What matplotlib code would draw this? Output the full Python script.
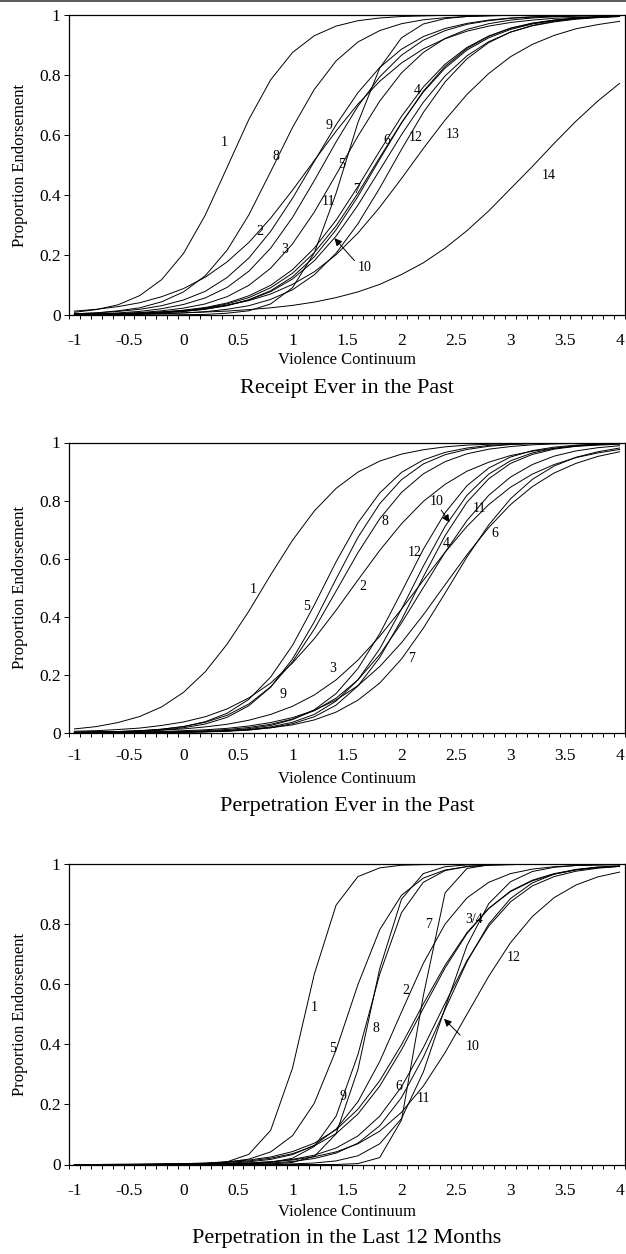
import matplotlib

matplotlib.use("Agg")
import matplotlib.pyplot as plt
from matplotlib.lines import Line2D
from matplotlib.ticker import FixedLocator, FixedFormatter

plt.rcParams["font.family"] = ["Liberation Serif", "DejaVu Serif"]
plt.rcParams["axes.unicode_minus"] = False

# Violence continuum (theta) grid the item curves were read at
THETA = [-1.0, -0.8, -0.6, -0.4, -0.2, 0.0, 0.2, 0.4, 0.6, 0.8, 1.0, 1.2, 1.4,
         1.6, 1.8, 2.0, 2.2, 2.4, 2.6, 2.8, 3.0, 3.2, 3.4, 3.6, 3.8, 4.0]

# --- Receipt ever in the past (items 1-14) ---
rec_1 = [.009, .018, .034, .065, .118, .205, .333, .492, .652, .784, .875, .931, .963, .981, .990, .995, .997, .999, .999, .999, 1, 1, 1, 1, 1, 1]
rec_2 = [.013, .019, .028, .041, .061, .088, .126, .177, .242, .323, .416, .515, .613, .703, .779, .840, .887, .921, .946, .963, .975, .983, .989, .992, .995, .997]
rec_3 = [.002, .003, .005, .008, .014, .023, .037, .061, .099, .156, .237, .343, .468, .596, .713, .807, .875, .922, .952, .971, .983, .990, .994, .996, .998, .999]
rec_4 = [.001, .002, .004, .006, .010, .016, .025, .040, .064, .099, .151, .223, .316, .428, .547, .662, .760, .836, .892, .930, .956, .972, .983, .989, .993, .996]
rec_5 = [.003, .004, .007, .012, .021, .035, .057, .092, .146, .223, .325, .448, .577, .696, .794, .866, .916, .948, .969, .981, .989, .993, .996, .998, .999, .999]
rec_6 = [.001, .002, .003, .004, .007, .012, .019, .032, .051, .081, .127, .194, .284, .395, .519, .640, .746, .829, .888, .929, .956, .973, .983, .990, .994, .996]
rec_7 = [.001, .002, .003, .006, .009, .014, .023, .037, .058, .091, .139, .208, .297, .406, .525, .641, .743, .823, .883, .924, .952, .970, .981, .988, .993, .995]
rec_8 = [.004, .007, .014, .024, .044, .077, .131, .216, .334, .478, .625, .752, .847, .910, .948, .971, .984, .991, .995, .997, .999, .999, 1, 1, 1, 1]
rec_9 = [.004, .007, .012, .019, .031, .050, .079, .125, .190, .279, .389, .512, .634, .741, .825, .886, .928, .955, .972, .983, .990, .994, .996, .998, .999, .999]
rec_10 = [.001, .002, .003, .005, .008, .012, .020, .031, .050, .078, .120, .181, .263, .366, .483, .601, .709, .797, .864, .911, .943, .964, .977, .986, .991, .995]
rec_11 = [0, 0, 0, 0, 0, .001, .002, .006, .014, .037, .091, .207, .406, .641, .823, .924, .970, .988, .995, .998, .999, 1, 1, 1, 1, 1]
rec_12 = [.001, .001, .001, .002, .004, .007, .011, .019, .031, .052, .084, .134, .206, .304, .423, .552, .675, .777, .854, .908, .943, .965, .979, .988, .993, .996]
rec_13 = [.002, .003, .005, .007, .010, .015, .022, .033, .048, .070, .102, .144, .201, .273, .359, .455, .555, .650, .735, .805, .861, .902, .932, .954, .968, .979]
rec_14 = [.002, .002, .003, .004, .005, .007, .010, .013, .018, .024, .032, .043, .058, .077, .102, .135, .174, .223, .281, .347, .421, .495, .572, .646, .713, .772]

# --- Perpetration ever in the past (items 1-12) ---
perp_1 = [.013, .021, .035, .056, .089, .139, .210, .305, .419, .544, .663, .764, .842, .898, .936, .960, .975, .985, .991, .994, .997, .998, .999, .999, 1, 1]
perp_2 = [.005, .007, .011, .016, .025, .037, .055, .082, .120, .171, .240, .324, .422, .526, .628, .720, .797, .856, .901, .932, .955, .970, .980, .987, .991, .994]
perp_3 = [.002, .003, .004, .006, .009, .013, .020, .029, .043, .063, .091, .130, .182, .250, .332, .426, .525, .622, .711, .786, .846, .891, .924, .948, .964, .976]
perp_4 = [0, 0, 0, 0, .001, .002, .003, .005, .009, .017, .031, .055, .095, .161, .259, .389, .537, .679, .794, .875, .928, .959, .977, .987, .993, .996]
perp_5 = [.001, .002, .004, .006, .012, .021, .038, .067, .115, .192, .301, .440, .589, .723, .826, .897, .940, .966, .981, .990, .994, .997, .998, .999, .999, 1]
perp_6 = [.001, .001, .002, .003, .004, .007, .010, .015, .023, .035, .052, .077, .113, .162, .228, .310, .406, .510, .613, .707, .786, .848, .895, .928, .952, .968]
perp_7 = [0, 0, .001, .001, .001, .002, .004, .006, .010, .017, .027, .044, .071, .112, .171, .254, .360, .481, .605, .716, .806, .873, .919, .949, .968, .981]
perp_8 = [.001, .003, .004, .007, .012, .021, .036, .060, .099, .158, .244, .357, .488, .620, .737, .828, .892, .934, .961, .977, .986, .992, .995, .997, .998, .999]
perp_9 = [.001, .002, .003, .005, .009, .017, .030, .053, .093, .157, .254, .382, .530, .673, .789, .872, .926, .958, .976, .987, .993, .996, .998, .999, .999, 1]
perp_10 = [0, 0, 0, .001, .001, .002, .003, .006, .011, .020, .036, .063, .109, .182, .289, .426, .574, .711, .818, .891, .937, .964, .980, .989, .994, .997]
perp_11 = [0, .001, .001, .002, .002, .004, .007, .011, .018, .029, .047, .076, .119, .182, .269, .378, .500, .622, .731, .818, .881, .924, .953, .971, .982, .989]
perp_12 = [0, 0, 0, .001, .001, .002, .004, .008, .014, .025, .045, .079, .135, .221, .341, .485, .632, .758, .851, .912, .950, .972, .984, .991, .995, .997]

# --- Perpetration in the last 12 months (items 1-12) ---
last_1 = [0, 0, 0, 0, 0, .001, .003, .009, .034, .114, .321, .634, .864, .959, .988, .997, .999, 1, 1, 1, 1, 1, 1, 1, 1, 1]
last_2 = [0, 0, 0, 0, .001, .001, .002, .004, .009, .017, .033, .064, .118, .209, .343, .508, .670, .801, .888, .940, .969, .984, .992, .996, .998, .999]
last_3 = [0, 0, .001, .001, .002, .003, .005, .009, .015, .025, .043, .071, .116, .184, .279, .399, .535, .664, .772, .853, .909, .945, .967, .981, .989, .993]
last_4 = [0, 0, 0, .001, .001, .002, .004, .007, .012, .021, .036, .062, .103, .168, .261, .382, .520, .655, .769, .853, .911, .947, .969, .982, .990, .994]
last_5 = [0, 0, 0, 0, .001, .001, .003, .008, .018, .042, .096, .204, .382, .599, .782, .897, .954, .981, .992, .997, .999, 1, 1, 1, 1, 1]
last_6 = [0, 0, 0, 0, 0, .001, .002, .003, .005, .009, .017, .031, .055, .095, .161, .259, .389, .537, .679, .794, .875, .928, .959, .977, .987, .993]
last_7 = [0, 0, 0, 0, 0, 0, 0, 0, 0, 0, 0, 0, 0, .003, .023, .148, .562, .905, .986, .998, 1, 1, 1, 1, 1, 1]
last_8 = [0, 0, 0, 0, 0, 0, 0, 0, 0, .002, .007, .027, .102, .316, .652, .884, .969, .992, .998, .999, 1, 1, 1, 1, 1, 1]
last_9 = [0, 0, 0, 0, 0, 0, 0, .001, .002, .007, .021, .060, .161, .366, .634, .839, .940, .979, .993, .998, .999, 1, 1, 1, 1, 1]
last_10 = [0, 0, 0, 0, 0, 0, .001, .001, .003, .005, .010, .020, .038, .071, .129, .223, .357, .517, .675, .801, .886, .938, .967, .983, .991, .995]
last_11 = [0, 0, 0, 0, 0, 0, 0, 0, 0, .001, .002, .005, .012, .029, .069, .153, .308, .522, .729, .869, .942, .976, .990, .996, .998, .999]
last_12 = [0, 0, 0, 0, .001, .001, .002, .003, .005, .009, .015, .026, .042, .069, .111, .174, .261, .373, .500, .627, .739, .826, .889, .931, .958, .974]

X_TICKS = [-1, -0.5, 0, 0.5, 1, 1.5, 2, 2.5, 3, 3.5, 4]
X_TICK_LABELS = ["-1", "-0.5", "0", "0.5", "1", "1.5", "2", "2.5", "3", "3.5", "4"]
Y_TICKS = [0, 0.2, 0.4, 0.6, 0.8, 1]
Y_TICK_LABELS = ["0", "0.2", "0.4", "0.6", "0.8", "1"]

W, H = 626, 1254


def fig_y(py):
    return 1 - py / H


def draw_panel(fig, box_px, curves, labels, arrow, tick_pad, xlabel_py, title_py, title):
    left, top, right, bottom = box_px
    ax = fig.add_axes([left / W, fig_y(bottom), (right - left) / W, (bottom - top) / H])
    for ys in curves:
        ax.plot(THETA, ys, color="black", lw=0.7)
    for txt, x, y in labels:
        ax.text(x, y, txt, fontsize=10, ha="center", va="center")
    tail, tip = arrow
    ax.annotate("", xy=tip, xytext=tail,
                arrowprops=dict(arrowstyle="-|>", color="black", lw=0.7,
                                mutation_scale=11, shrinkA=0, shrinkB=0))

    ax.set_xlim(-1.05, 4.05)
    ax.set_ylim(0, 1)
    ax.xaxis.set_major_locator(FixedLocator(X_TICKS))
    ax.xaxis.set_major_formatter(FixedFormatter(X_TICK_LABELS))
    ax.xaxis.set_minor_locator(FixedLocator([-1.05 + 0.1 * k for k in range(52)]))
    ax.yaxis.set_major_locator(FixedLocator(Y_TICKS))
    ax.yaxis.set_major_formatter(FixedFormatter(Y_TICK_LABELS))
    ax.tick_params(axis="x", which="major", length=0, pad=tick_pad, labelsize=12.5)
    ax.tick_params(axis="x", which="minor", length=3, width=0.7, direction="out")
    ax.tick_params(axis="y", which="major", length=3.6, width=0.7, direction="out",
                   pad=2.5, labelsize=12.5)
    for sp in ax.spines.values():
        sp.set_linewidth(0.9)

    # rotated label is anchored at its right-hand edge, so shift it to centre near x=20px
    ax.set_ylabel("Proportion Endorsement", fontsize=12)
    ax.yaxis.set_label_coords((28 - left) / (right - left), 0.5)

    cx = (left + right) / 2 / W
    fig.text(cx, fig_y(xlabel_py), "Violence Continuum", fontsize=12, ha="center", va="center")
    fig.text(cx, fig_y(title_py), title, fontsize=16, ha="center", va="center")
    return ax


fig = plt.figure(figsize=(W / 100, H / 100), dpi=100)
fig.add_artist(Line2D([0, 1], [fig_y(0.7), fig_y(0.7)], color="0.35", lw=1.4))

draw_panel(
    fig, (69, 15, 625, 315),
    [rec_1, rec_2, rec_3, rec_4, rec_5, rec_6, rec_7, rec_8, rec_9, rec_10, rec_11, rec_12, rec_13, rec_14],
    [("1", 0.37, 0.574), ("8", 0.844, 0.53), ("9", 1.333, 0.633), ("5", 1.447, 0.503),
     ("11", 1.333, 0.378), ("7", 1.584, 0.417), ("2", 0.697, 0.278), ("3", 0.927, 0.219),
     ("10", 1.661, 0.159), ("6", 1.865, 0.581), ("4", 2.144, 0.748), ("12", 2.135, 0.591),
     ("13", 2.47, 0.60), ("14", 3.35, 0.466)],
    ((1.569, 0.181), (1.385, 0.256)),
    13, 360, 388, "Receipt Ever in the Past",
)

draw_panel(
    fig, (69, 442.5, 625, 732.7),
    [perp_1, perp_2, perp_3, perp_4, perp_5, perp_6, perp_7, perp_8, perp_9, perp_10, perp_11, perp_12],
    [("1", 0.636, 0.492), ("5", 1.126, 0.434), ("9", 0.911, 0.130), ("8", 1.844, 0.729),
     ("2", 1.645, 0.503), ("3", 1.37, 0.222), ("12", 2.12, 0.621), ("10", 2.318, 0.796),
     ("4", 2.41, 0.652), ("11", 2.716, 0.773), ("6", 2.853, 0.687), ("7", 2.089, 0.256)],
    ((2.364, 0.767), (2.44, 0.725)),
    11.3, 779, 807, "Perpetration Ever in the Past",
)

draw_panel(
    fig, (69, 864.3, 625, 1164.5),
    [last_1, last_2, last_3, last_4, last_5, last_6, last_7, last_8, last_9, last_10, last_11, last_12],
    [("1", 1.202, 0.522), ("5", 1.37, 0.385), ("9", 1.462, 0.226), ("8", 1.767, 0.454),
     ("7", 2.25, 0.798), ("3/4", 2.67, 0.815), ("2", 2.043, 0.578), ("12", 3.028, 0.689),
     ("10", 2.654, 0.392), ("6", 1.975, 0.261), ("11", 2.205, 0.22)],
    ((2.538, 0.431), (2.39, 0.485)),
    13, 1212, 1238, "Perpetration in the Last 12 Months",
)

fig.savefig("out.png", dpi=100)
